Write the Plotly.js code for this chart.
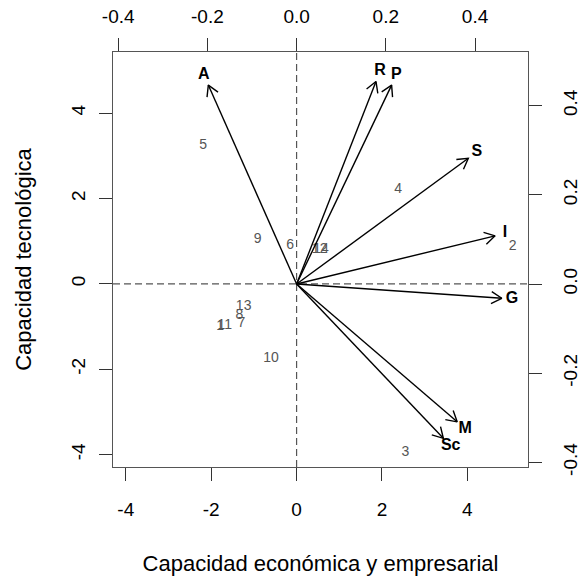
<!DOCTYPE html>
<html>
<head>
<meta charset="utf-8">
<script src="https://cdn.plot.ly/plotly-3.0.1.min.js"></script>
<style>html,body{margin:0;padding:0;background:#fff;}#chart{width:580px;height:577px;}</style>
</head>
<body>
<div id="chart"></div>
<script>
// Observation scores (bottom / left axes)
const obsLabels = ['1','2','3','4','5','6','7','8','9','10','11','12','13','14'];
const obsX = [-1.79, 5.06, 2.55, 2.38, -2.19, -0.15, -1.29, -1.34, -0.91, -0.60, -1.68, 0.54, -1.24, 0.57];
const obsY = [-1.01, 0.87, -3.94, 2.20, 3.23, 0.89, -0.94, -0.73, 1.05, -1.74, -0.98, 0.81, -0.54, 0.81];

// Variable loadings (top / right axes)
const varLabels = ['A', 'R', 'P', 'S', 'I', 'G', 'M', 'Sc'];
const varX = [-0.198, 0.178, 0.213, 0.385, 0.445, 0.460, 0.360, 0.329];
const varY = [0.446, 0.454, 0.446, 0.282, 0.108, -0.032, -0.309, -0.346];

// Tick labels
const mainTicks = [-4, -2, 0, 2, 4];
const mainTickText = ['-4', '-2', '0', '2', '4'];
const secTicks = [-0.4, -0.2, 0, 0.2, 0.4];
const secTickText = ['-0.4', '-0.2', '0.0', '0.2', '0.4'];

// Build arrows (shaft + open head) from loadings
const labelFactor = 1.05;
const headLen = 0.027;     // in loading units
const headAng = Math.PI / 6;
const ax = [], ay = [];
varX.forEach((x, i) => {
  const y = varY[i];
  ax.push(0, x, null);
  ay.push(0, y, null);
  const a = Math.atan2(y, x);
  ax.push(x - headLen * Math.cos(a - headAng), x, x - headLen * Math.cos(a + headAng), null);
  ay.push(y - headLen * Math.sin(a - headAng), y, y - headLen * Math.sin(a + headAng), null);
});

const FONT = '"Liberation Sans", Arial, Helvetica, sans-serif';

const traces = [
  {
    type: 'scatter', mode: 'text', x: obsX, y: obsY, text: obsLabels,
    textposition: 'middle center',
    textfont: {family: FONT, size: 14, color: '#555'},
    xaxis: 'x', yaxis: 'y', hoverinfo: 'skip', showlegend: false
  },
  {
    type: 'scatter', mode: 'lines', x: ax, y: ay,
    line: {color: '#000', width: 1.4},
    xaxis: 'x2', yaxis: 'y2', hoverinfo: 'skip', showlegend: false, connectgaps: false
  },
  {
    type: 'scatter', mode: 'text',
    x: varX.map(v => v * labelFactor), y: varY.map(v => v * labelFactor), text: varLabels.map(t => '<b>' + t + '</b>'),
    textposition: 'middle center',
    textfont: {family: FONT, size: 16, color: '#000'},
    xaxis: 'x2', yaxis: 'y2', hoverinfo: 'skip', showlegend: false
  }
];

const axisCommon = {
  showgrid: false, zeroline: false, showline: true, linecolor: '#555', linewidth: 1,
  ticks: 'outside', ticklen: 13, tickcolor: '#333', tickwidth: 1,
  tickfont: {family: FONT, size: 19, color: '#000'}, fixedrange: true
};

const layout = {
  width: 580, height: 577,
  margin: {l: 113, r: 52, t: 52, b: 110},
  paper_bgcolor: '#fff', plot_bgcolor: '#fff',
  font: {family: FONT, color: '#000'},
  showlegend: false,
  xaxis: Object.assign({}, axisCommon, {
    range: [-4.30, 5.42], tickmode: 'array', tickvals: mainTicks, ticktext: mainTickText,
    ticklabelstandoff: 12,
    title: {text: 'Capacidad económica y empresarial', font: {family: FONT, size: 22, color: '#000'}, standoff: 36}
  }),
  yaxis: Object.assign({}, axisCommon, {
    range: [-4.29, 5.43], tickmode: 'array', tickvals: mainTicks, ticktext: mainTickText,
    tickangle: -90, ticklabelstandoff: 6,
    title: {text: 'Capacidad tecnológica', font: {family: FONT, size: 22, color: '#000'}, standoff: 30}
  }),
  xaxis2: Object.assign({}, axisCommon, {
    overlaying: 'x', side: 'top', anchor: 'y',
    range: [-0.4117, 0.5188], tickmode: 'array', tickvals: secTicks, ticktext: secTickText,
    ticklabelstandoff: 7
  }),
  yaxis2: Object.assign({}, axisCommon, {
    overlaying: 'y', side: 'right', anchor: 'x',
    range: [-0.4103, 0.5202], tickmode: 'array', tickvals: secTicks, ticktext: secTickText,
    tickangle: -90, ticklabelstandoff: 12
  }),
  shapes: [
    {type: 'line', xref: 'paper', x0: 0, x1: 1, yref: 'y', y0: 0, y1: 0,
     line: {color: '#555', width: 1.2, dash: '7px,4px'}, layer: 'below'},
    {type: 'line', yref: 'paper', y0: 0, y1: 1, xref: 'x', x0: 0, x1: 0,
     line: {color: '#555', width: 1.2, dash: '7px,4px'}, layer: 'below'}
  ]
};

Plotly.newPlot('chart', traces, layout, {displayModeBar: false, staticPlot: true});
</script>
</body>
</html>
